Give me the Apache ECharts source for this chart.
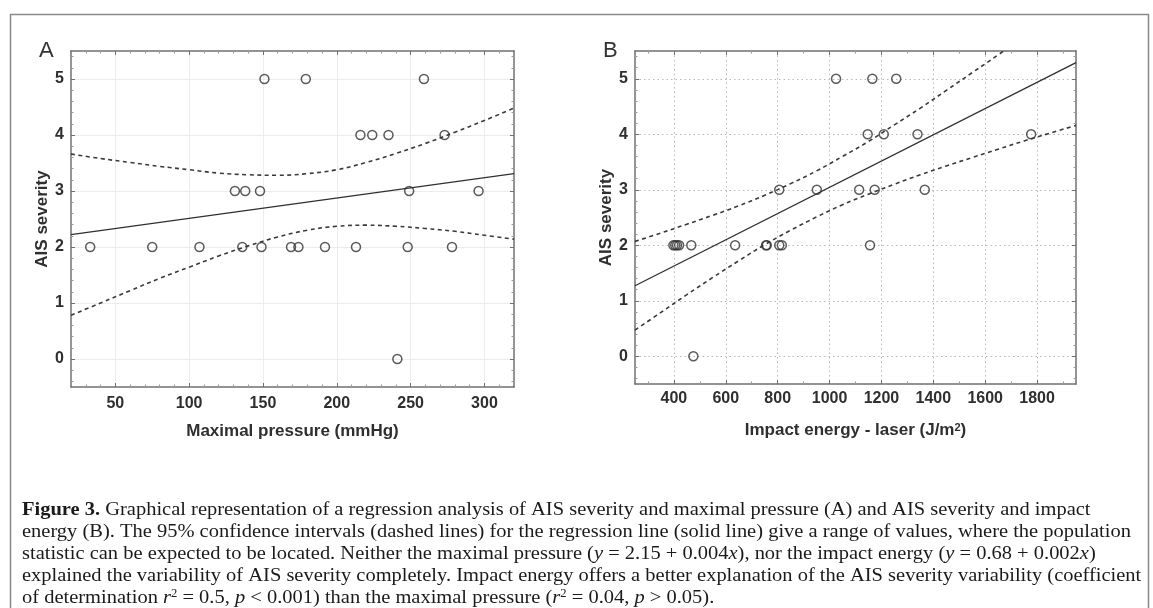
<!DOCTYPE html>
<html>
<head>
<meta charset="utf-8">
<script src="https://cdn.jsdelivr.net/npm/echarts@6/dist/echarts.min.js"></script>
<style>
  html, body { margin: 0; padding: 0; background: #fff; }
  #chart { width: 1153px; height: 608px; }
</style>
</head>
<body>
<div id="chart"></div>
<script>
// ---- Panel A: maximal pressure (mmHg) against AIS severity ----
const pressureValues = [33, 75, 107, 136, 149, 169, 174, 192, 213, 248, 278,
                        131, 138, 148, 249, 296,
                        216, 224, 235, 273,
                        151, 179, 259,
                        241];
const pressureAIS = [2, 2, 2, 2, 2, 2, 2, 2, 2, 2, 2,
                     3, 3, 3, 3, 3,
                     4, 4, 4, 4,
                     5, 5, 5,
                     0];
const pressureFitX = [20, 320];
const pressureFitY = [2.22, 3.31];
const pressureBandX = [20, 40, 60, 80, 100, 120, 140, 160, 180, 200, 220, 240, 260, 280, 300, 320];
const pressureBandUpper = [3.66, 3.58, 3.51, 3.44, 3.38, 3.32, 3.29, 3.28, 3.31, 3.38, 3.51, 3.67, 3.85, 4.05, 4.26, 4.48];
const pressureBandLower = [0.78, 1.00, 1.22, 1.44, 1.64, 1.84, 2.02, 2.18, 2.30, 2.37, 2.39, 2.37, 2.33, 2.28, 2.21, 2.14];
const pressureTicks = [50, 100, 150, 200, 250, 300];

// ---- Panel B: laser impact energy (J/m2) against AIS severity ----
const energyValues = [398, 405, 412, 420, 467, 636, 755, 758, 806, 816, 1156,
                      806, 951, 1114, 1174, 1367,
                      1147, 1209, 1339, 1777,
                      1025, 1165, 1257,
                      475];
const energyAIS = [2, 2, 2, 2, 2, 2, 2, 2, 2, 2, 2,
                   3, 3, 3, 3, 3,
                   4, 4, 4, 4,
                   5, 5, 5,
                   0];
const energyFitX = [250, 1950];
const energyFitY = [1.27, 5.29];
const energyBandX = [250, 350, 450, 550, 650, 750, 850, 950, 1050, 1150, 1250, 1350, 1450, 1550, 1650, 1750, 1850, 1950];
const energyBandUpper = [2.07, 2.22, 2.38, 2.54, 2.71, 2.90, 3.11, 3.34, 3.60, 3.87, 4.17, 4.47, 4.79, 5.11, 5.43, 5.76, 6.09, 6.42];
const energyBandLower = [0.47, 0.79, 1.11, 1.42, 1.72, 2.01, 2.27, 2.51, 2.73, 2.92, 3.10, 3.27, 3.43, 3.58, 3.73, 3.88, 4.02, 4.16];
const energyTicks = [400, 600, 800, 1000, 1200, 1400, 1600, 1800];

const severityTicks = [0, 1, 2, 3, 4, 5];

// ---- Caption ----
const captionLines = [
  '{b|Figure 3.} Graphical representation of a regression analysis of AIS severity and maximal pressure (A) and AIS severity and impact',
  'energy (B). The 95% confidence intervals (dashed lines) for the regression line (solid line) give a range of values, where the population',
  'statistic can be expected to be located. Neither the maximal pressure ({i|y} = 2.15 + 0.004{i|x}), nor the impact energy ({i|y} = 0.68 + 0.002{i|x})',
  'explained the variability of AIS severity completely. Impact energy offers a better explanation of the AIS severity variability (coefficient',
  'of determination {i|r}{sup|2} = 0.5, {i|p} < 0.001) than the maximal pressure ({i|r}{sup|2} = 0.04, {i|p} > 0.05).'
];

const zip = (xs, ys) => xs.map((x, i) => [x, ys[i]]);

const SANS = '"Liberation Sans", Arial, sans-serif';
const SERIF = '"Liberation Serif", "Times New Roman", serif';
const INK = '#2f2f2f';
const FRAME = '#707070';

function axisBase(gridIndex, position, min, max, splitNumber, minorSplit, labels, grid, withLabels, labelMargin) {
  return {
    type: 'value',
    gridIndex: gridIndex,
    position: position,
    min: min,
    max: max,
    splitNumber: splitNumber,
    axisLine: { show: true, onZero: false, lineStyle: { color: FRAME, width: 1.5 } },
    axisTick: { show: true, inside: true, length: 4, customValues: labels, lineStyle: { color: FRAME, width: 1 } },
    minorTick: { show: true, splitNumber: minorSplit, length: 2.5, lineStyle: { color: '#9a9a9a', width: 1 } },
    axisLabel: withLabels ? {
      show: true,
      customValues: labels,
      formatter: v => String(v),
      color: INK,
      fontFamily: SANS,
      fontWeight: 'bold',
      fontSize: 16,
      margin: labelMargin || 7
    } : { show: false },
    splitLine: grid ? Object.assign({ show: true }, grid) : { show: false }
  };
}

const gridA = { lineStyle: { color: '#ececec', width: 1, type: 'solid' } };
const gridB = { lineStyle: { color: '#b9b9b9', width: 1, type: [1.5, 3] } };

const xA = axisBase(0, 'bottom', 20, 320, 5, 5, pressureTicks, gridA, true, 9);
xA.name = 'Maximal pressure (mmHg)';
xA.nameGap = 36;
const xAtop = axisBase(0, 'top', 20, 320, 5, 5, pressureTicks, null, false);
const xB = axisBase(1, 'bottom', 250, 1950, 8, 2, energyTicks, gridB, true, 7);
xB.name = 'Impact energy - laser (J/m{sup|2})';
xB.nameGap = 38;
const xBtop = axisBase(1, 'top', 250, 1950, 8, 2, energyTicks, null, false);

const yA = axisBase(0, 'left', -0.5, 5.5, 6, 5, severityTicks, gridA, true);
yA.name = 'AIS severity';
const yAright = axisBase(0, 'right', -0.5, 5.5, 6, 5, severityTicks, null, false);
const yB = axisBase(1, 'left', -0.5, 5.5, 6, 5, severityTicks, gridB, true);
yB.name = 'AIS severity';
const yBright = axisBase(1, 'right', -0.5, 5.5, 6, 5, severityTicks, null, false);

const nameStyle = {
  color: INK, fontFamily: SANS, fontWeight: 'bold', fontSize: 17,
  rich: { sup: { fontFamily: SANS, fontWeight: 'bold', fontSize: 11, verticalAlign: 'top', color: INK } }
};
[xA, xB].forEach(a => {
  a.nameLocation = 'middle';
  a.nameTextStyle = nameStyle;
});
[yA, yB].forEach(a => {
  a.nameLocation = 'middle';
  a.nameGap = 20;
  a.nameTextStyle = nameStyle;
});

function scatterSeries(xIdx, yIdx, xs, ys) {
  return {
    type: 'scatter', xAxisIndex: xIdx, yAxisIndex: yIdx,
    data: zip(xs, ys),
    symbol: 'circle', symbolSize: 9,
    itemStyle: { color: 'rgba(0,0,0,0)', borderColor: '#333333', borderWidth: 1.5 },
    z: 5, silent: true
  };
}
function lineSeries(xIdx, yIdx, xs, ys, dashed) {
  return {
    type: 'line', xAxisIndex: xIdx, yAxisIndex: yIdx,
    data: zip(xs, ys),
    symbol: 'none', smooth: dashed ? 0.4 : false, clip: true,
    lineStyle: dashed
      ? { color: '#3a3a3a', width: 1.6, type: [4, 3.5] }
      : { color: '#303030', width: 1.3, type: 'solid' },
    z: 4, silent: true, animation: false
  };
}

const chart = echarts.init(document.getElementById('chart'), null, { renderer: 'canvas' });

// Serif caption below the two panels
const captionFont = 19.5;
const captionLeading = 22;
const captionGraphics = captionLines.map((line, k) => ({
  type: 'text',
  left: 22,
  top: 500 + k * captionLeading,
  scaleX: 1.05,
  originX: 0,
  style: {
    text: line,
    fill: '#1a1a1a',
    font: captionFont + 'px ' + SERIF,
    rich: {
      b: { fontWeight: 'bold', fontSize: captionFont, fontFamily: SERIF, fill: '#1a1a1a' },
      i: { fontStyle: 'italic', fontSize: captionFont, fontFamily: SERIF, fill: '#1a1a1a' },
      sup: { fontStyle: 'normal', fontSize: 12, fontFamily: SERIF, verticalAlign: 'top', fill: '#1a1a1a' }
    }
  },
  silent: true
}));

chart.setOption({
  animation: false,
  backgroundColor: '#ffffff',
  grid: [
    { left: 71, right: 639, top: 51, bottom: 221, containLabel: false },
    { left: 635, right: 77, top: 51, bottom: 224, containLabel: false }
  ],
  xAxis: [xA, xAtop, xB, xBtop],
  yAxis: [yA, yAright, yB, yBright],
  series: [
    lineSeries(0, 0, pressureBandX, pressureBandUpper, true),
    lineSeries(0, 0, pressureBandX, pressureBandLower, true),
    lineSeries(0, 0, pressureFitX, pressureFitY, false),
    scatterSeries(0, 0, pressureValues, pressureAIS),
    lineSeries(2, 2, energyBandX, energyBandUpper, true),
    lineSeries(2, 2, energyBandX, energyBandLower, true),
    lineSeries(2, 2, energyFitX, energyFitY, false),
    scatterSeries(2, 2, energyValues, energyAIS)
  ],
  graphic: [
    {
      type: 'rect', left: 8, top: 12, silent: true,
      shape: { width: 1138, height: 620 },
      style: { fill: 'none', stroke: '#8a8a8a', lineWidth: 1.5 }
    },
    {
      type: 'text', left: 39, top: 40, silent: true,
      style: { text: 'A', fill: '#333', font: '22px ' + SANS }
    },
    {
      type: 'text', left: 603, top: 40, silent: true,
      style: { text: 'B', fill: '#333', font: '22px ' + SANS }
    }
  ].concat(captionGraphics)
});
</script>
</body>
</html>
